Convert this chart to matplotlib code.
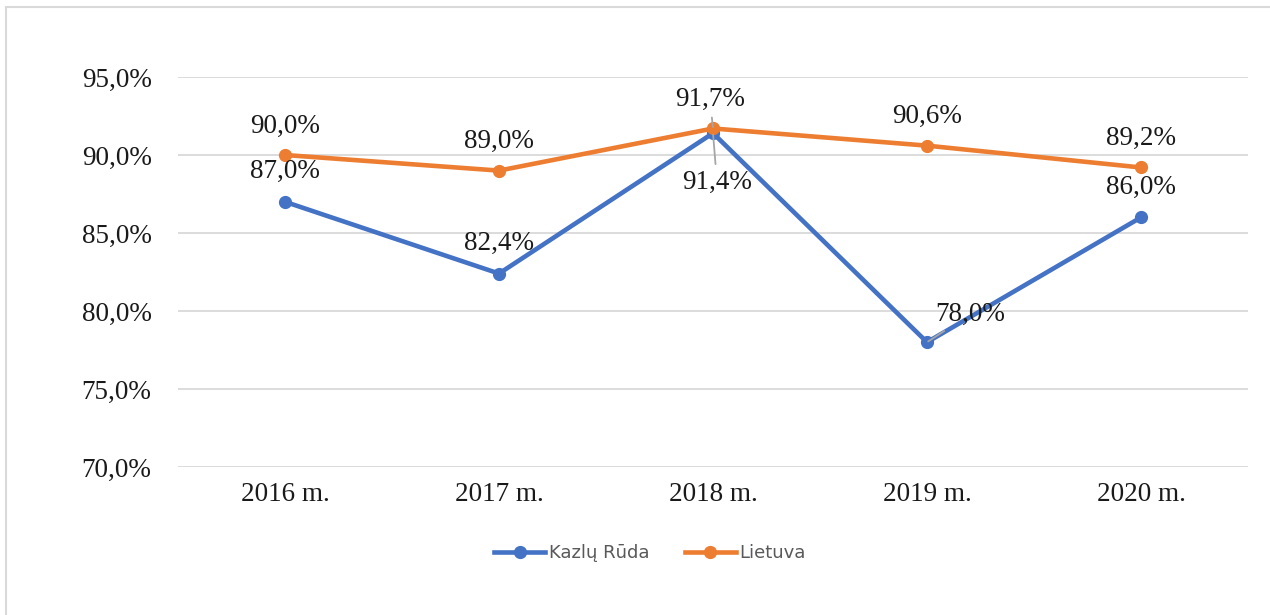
import matplotlib.pyplot as plt
from matplotlib.patches import Rectangle

years = ['2016 m.', '2017 m.', '2018 m.', '2019 m.', '2020 m.']
kazlu_ruda = [87.0, 82.4, 91.4, 78.0, 86.0]
lietuva = [90.0, 89.0, 91.7, 90.6, 89.2]
y_ticks = [70, 75, 80, 85, 90, 95]

blue = '#4472C4'
orange = '#ED7D31'
grid_c = '#D9D9D9'

fig = plt.figure(figsize=(12.7, 6.15), dpi=100)
fig.patches.append(Rectangle((6 / 1270, -0.01), 1.0, 1 - 7 / 615 + 0.01,
                             transform=fig.transFigure, fill=False,
                             edgecolor=grid_c, linewidth=1.5))

ax = fig.add_axes([178 / 1270, 1 - 467 / 615, 1070 / 1270, 390 / 615])
x = list(range(len(years)))

ax.plot(x, kazlu_ruda, color=blue, lw=3.3, marker='o', ms=8.5, label='Kazlų Rūda', zorder=3)
ax.plot(x, lietuva, color=orange, lw=3.3, marker='o', ms=8.5, label='Lietuva', zorder=3)

ax.set_xlim(-0.5, len(years) - 0.5)
ax.set_ylim(70, 95)
ax.set_yticks(y_ticks)
ax.set_yticklabels([f'{v:.1f}%'.replace('.', ',') for v in y_ticks])
ax.set_xticks(x)
ax.set_xticklabels(years)
ax.yaxis.grid(True, color=grid_c, lw=1.3)
ax.set_axisbelow(True)
for s in ax.spines.values():
    s.set_visible(False)
ax.tick_params(length=0, labelsize=19.5, labelcolor='#1a1a1a')
ax.tick_params(axis='y', pad=19)
ax.tick_params(axis='x', pad=11)
for t in ax.get_xticklabels() + ax.get_yticklabels():
    t.set_family('Liberation Serif')

def lab(v):
    return f'{v:.1f}%'.replace('.', ',')

# label offsets in pixels
off_l = [(0, 29), (0, 29), (-3, 29), (0, 29), (0, 29)]
off_k = [(0, 30), (0, 30), (4, -49), (43, 28), (0, 30)]
leader_l = [False, False, True, False, False]
leader_k = [False, False, True, True, False]

for vals, offs, leads in [(lietuva, off_l, leader_l), (kazlu_ruda, off_k, leader_k)]:
    for i, v in enumerate(vals):
        ap = dict(arrowstyle='-', color='#A6A6A6', lw=1.3, shrinkA=2, shrinkB=1) if leads[i] else None
        ax.annotate(lab(v), (i, v), xytext=offs[i], textcoords='offset pixels',
                    ha='center', va='center', fontsize=19.5, family='Liberation Serif',
                    color='#1a1a1a', arrowprops=ap, zorder=4)

leg = fig.legend(loc='center', bbox_to_anchor=(650 / 1270, 1 - 553 / 615), ncol=2,
                 frameon=False, fontsize=13, handlelength=2.8, columnspacing=2.0,
                 handletextpad=0.2)
for t in leg.get_texts():
    t.set_color('#595959')

fig.savefig('out.png', dpi=100)
